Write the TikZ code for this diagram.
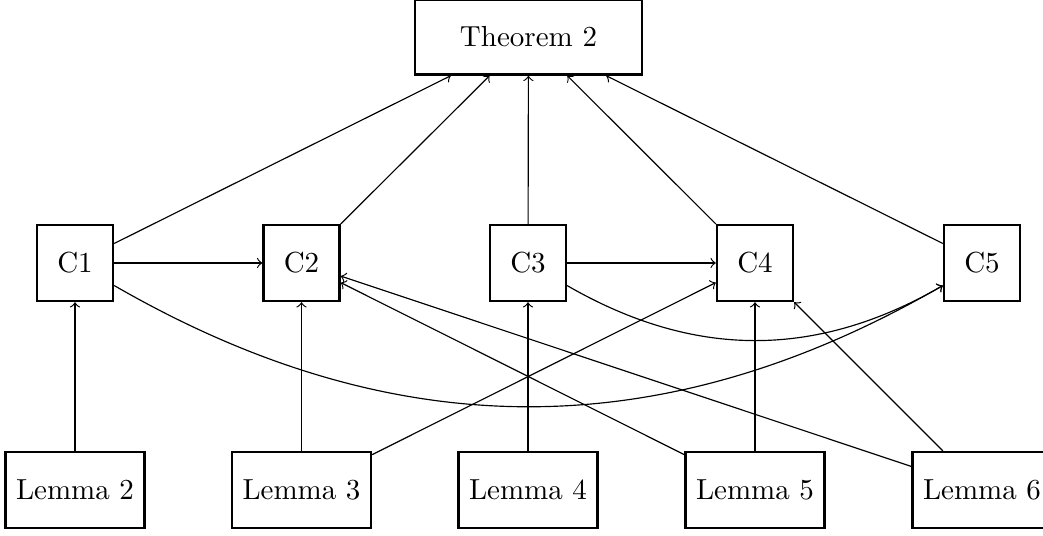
\documentclass[tikz,border=0pt]{standalone}
\begin{document}
\begin{tikzpicture}[x=0.3448pt,y=-0.3448pt,
  box/.style={draw,line width=0.8pt,inner sep=0pt,minimum height=26.2pt},
  cbox/.style={box,minimum width=26.2pt},
  lbox/.style={box,minimum width=47.9pt},
  tbox/.style={box,minimum width=78.3pt,minimum height=25.9pt},
  arr/.style={->,line width=0.4pt}]
\clip (0,0) rectangle (1043,536);
\node[tbox] (T) at (528.5,37) {Theorem 2};
\node[cbox] (C1) at (75,263) {C1};
\node[cbox] (C2) at (301.5,263) {C2};
\node[cbox] (C3) at (528,263) {C3};
\node[cbox] (C4) at (755,263) {C4};
\node[cbox] (C5) at (982,263) {C5};
\node[lbox] (L2) at (75,490) {Lemma 2};
\node[lbox] (L3) at (301.5,490) {Lemma 3};
\node[lbox] (L4) at (528,490) {Lemma 4};
\node[lbox] (L5) at (755,490) {Lemma 5};
\node[lbox] (L6) at (982,490) {Lemma 6};
\draw[arr] (C1) -- (T);
\draw[arr] (C2) -- (T);
\draw[arr] (C3) -- (T);
\draw[arr] (C4) -- (T);
\draw[arr] (C5) -- (T);
\draw[arr] (C1) -- (C2);
\draw[arr] (C3) -- (C4);
\draw[arr] (L2) -- (C1);
\draw[arr] (L3) -- (C2);
\draw[arr] (L4) -- (C3);
\draw[arr] (L5) -- (C4);
\draw[arr] (L3) -- (C4);
\draw[arr] (L5) -- (C2);
\draw[arr] (L6) -- (C2);
\draw[arr] (L6) -- (C4);
\draw[arr] (C1) to[bend right=30] (C5);
\draw[arr] (C3) to[bend right=30] (C5);
\end{tikzpicture}
\end{document}
